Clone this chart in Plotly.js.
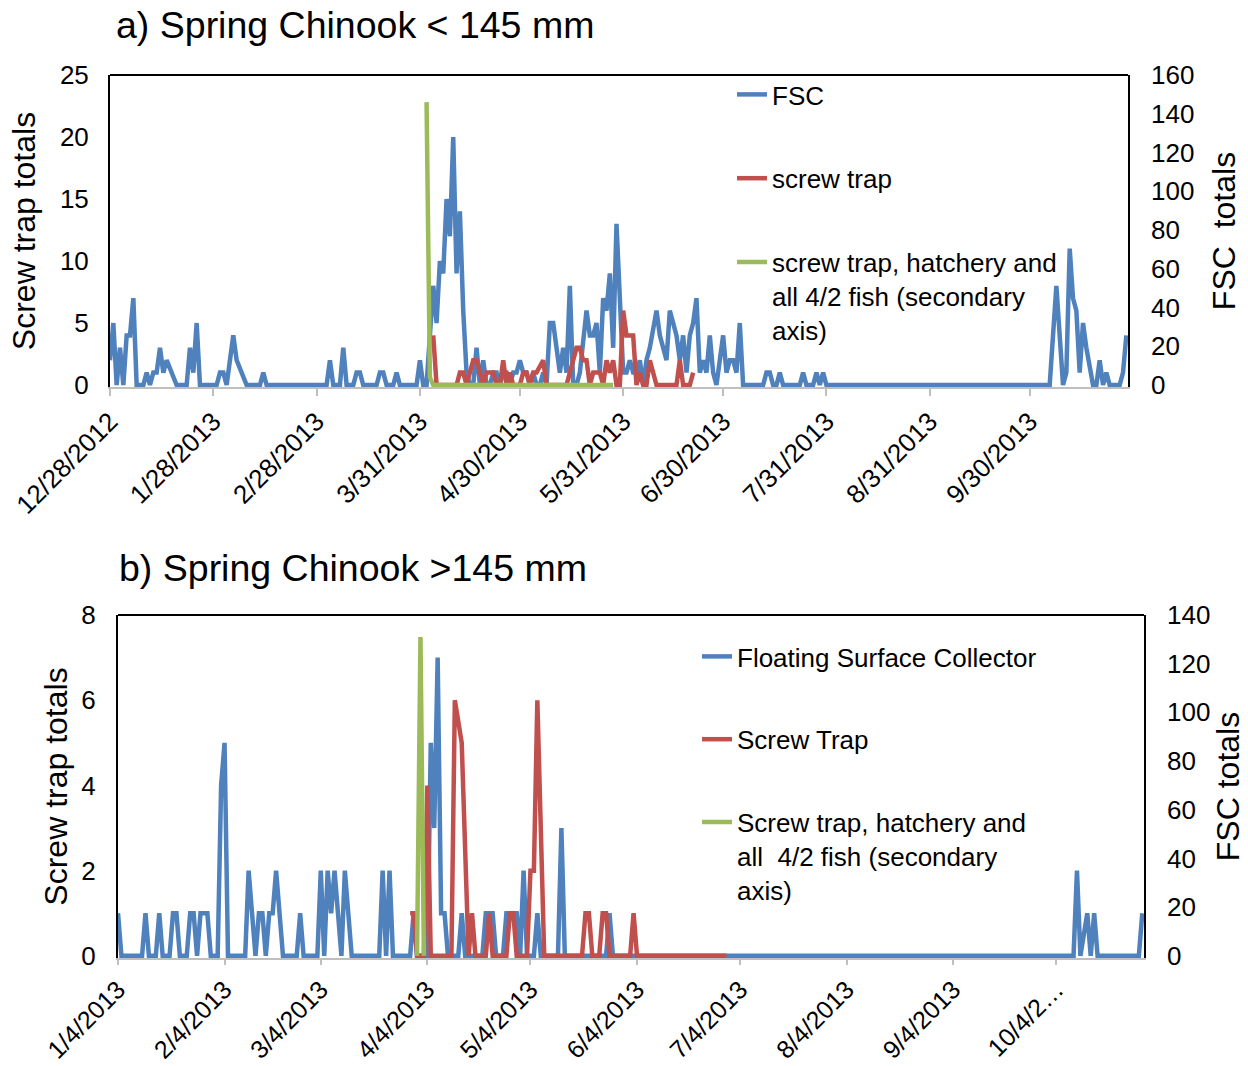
<!DOCTYPE html>
<html>
<head>
<meta charset="utf-8">
<script src="https://cdn.plot.ly/plotly-3.0.1.min.js"></script>
<style>html,body{margin:0;padding:0;background:#fff}#chart{width:1248px;height:1066px}</style>
</head>
<body>
<div id="chart"></div>
<script>
// ---------- Panel a: Spring Chinook < 145 mm ----------
const fscDatesA = ["2012-12-28","2012-12-29","2012-12-30","2012-12-31",
"2013-01-01","2013-01-02","2013-01-03","2013-01-04","2013-01-05","2013-01-07","2013-01-08","2013-01-09","2013-01-10","2013-01-11","2013-01-12","2013-01-13","2013-01-14","2013-01-17","2013-01-20","2013-01-21","2013-01-22","2013-01-23","2013-01-24","2013-01-29","2013-01-30","2013-01-31",
"2013-02-01","2013-02-03","2013-02-04","2013-02-07","2013-02-11","2013-02-12","2013-02-13",
"2013-03-03","2013-03-04","2013-03-05","2013-03-07","2013-03-08","2013-03-09","2013-03-11","2013-03-12","2013-03-13","2013-03-14","2013-03-18","2013-03-19","2013-03-20","2013-03-21","2013-03-23","2013-03-24","2013-03-25","2013-03-30","2013-03-31",
"2013-04-01","2013-04-02","2013-04-04","2013-04-05","2013-04-06","2013-04-07","2013-04-08","2013-04-09","2013-04-10","2013-04-11","2013-04-12","2013-04-13","2013-04-14","2013-04-15","2013-04-16","2013-04-17","2013-04-18","2013-04-19","2013-04-20","2013-04-21","2013-04-22","2013-04-23","2013-04-24","2013-04-25","2013-04-26","2013-04-27","2013-04-28","2013-04-29","2013-04-30",
"2013-05-01","2013-05-02","2013-05-03","2013-05-04","2013-05-05","2013-05-06","2013-05-07","2013-05-08","2013-05-09","2013-05-10","2013-05-12","2013-05-13","2013-05-14","2013-05-15","2013-05-16","2013-05-17","2013-05-18","2013-05-20","2013-05-21","2013-05-22","2013-05-23","2013-05-24","2013-05-25","2013-05-26","2013-05-27","2013-05-28","2013-05-29","2013-05-31",
"2013-06-01","2013-06-02","2013-06-03","2013-06-04","2013-06-05","2013-06-06","2013-06-07","2013-06-08","2013-06-10","2013-06-11","2013-06-13","2013-06-14","2013-06-16","2013-06-17","2013-06-18","2013-06-19","2013-06-20","2013-06-21","2013-06-22","2013-06-23","2013-06-24","2013-06-25","2013-06-26","2013-06-27","2013-06-28","2013-06-29","2013-06-30",
"2013-07-01","2013-07-02","2013-07-03","2013-07-04","2013-07-05","2013-07-06","2013-07-12","2013-07-13","2013-07-14","2013-07-15","2013-07-16","2013-07-17","2013-07-18","2013-07-23","2013-07-24","2013-07-25","2013-07-27","2013-07-28","2013-07-29","2013-07-30","2013-07-31",
"2013-10-06","2013-10-08","2013-10-10","2013-10-11","2013-10-12","2013-10-13","2013-10-14","2013-10-15","2013-10-16","2013-10-17","2013-10-19","2013-10-20","2013-10-21","2013-10-22","2013-10-23","2013-10-24","2013-10-27","2013-10-28","2013-10-29"];
const fscA = [2,5,0,3,
0,4,4,7,0,0,1,0,1,1,3,1,2,0,0,3,1,5,0,0,1,1,
0,4,2,0,0,1,0,
0,2,0,0,3,0,0,1,1,0,0,1,1,0,0,1,0,0,2,
0,0,8,5,10,9,15,12,20,9,14,6,1,0,0,3,0,2,0,0,1,1,0,1,1,0,1,1,2,
1,1,0,1,0,0,1,0,5,5,1,3,1,8,0,0,1,6,4,4,5,1,7,6,9,3,13,1,
1,2,1,1,2,0,2,3,6,4,2,6,4,2,4,1,4,5,7,1,2,1,4,1,0,2,4,
1,2,2,1,5,0,0,1,1,0,0,1,0,0,1,0,0,1,0,1,0,
0,8,0,1,11,7,6,1,5,3,0,0,2,0,1,0,0,1,4];

const trapDatesA = ["2013-04-04","2013-04-05","2013-04-11","2013-04-12","2013-04-13","2013-04-14","2013-04-16","2013-04-17","2013-04-19","2013-04-20","2013-04-22","2013-04-23","2013-04-24","2013-04-25","2013-04-26","2013-04-27","2013-04-28","2013-04-30",
"2013-05-01","2013-05-02","2013-05-03","2013-05-04","2013-05-05","2013-05-07","2013-05-08","2013-05-14","2013-05-15","2013-05-16","2013-05-17","2013-05-18","2013-05-19","2013-05-20","2013-05-21","2013-05-22","2013-05-23","2013-05-24","2013-05-25","2013-05-26","2013-05-27","2013-05-28","2013-05-29","2013-05-30","2013-05-31",
"2013-06-01","2013-06-02","2013-06-03","2013-06-04","2013-06-05","2013-06-06","2013-06-07","2013-06-08","2013-06-09","2013-06-10","2013-06-16","2013-06-17","2013-06-18","2013-06-20","2013-06-21"];
const trapA = [4,0,0,1,1,0,2,2,0,1,1,0,0,2,0,1,0,0,
1,1,0,1,1,2,0,0,1,2,3,3,2,2,0,1,1,1,0,2,1,2,0,0,6,
4,4,4,0,1,0,0,2,1,0,0,2,0,0,1];

const allDatesA = ["2013-04-02","2013-04-03","2013-04-04","2013-05-28"];
const allA = [146,4,0,0];

const tickValsA = ["2012-12-28","2013-01-28","2013-02-28","2013-03-31","2013-04-30","2013-05-31","2013-06-30","2013-07-31","2013-08-31","2013-09-30"];
const tickTextA = ["12/28/2012","1/28/2013","2/28/2013","3/31/2013","4/30/2013","5/31/2013","6/30/2013","7/31/2013","8/31/2013","9/30/2013"];

// ---------- Panel b: Spring Chinook >145 mm ----------
const fscDatesB = ["2013-01-04","2013-01-05","2013-01-11","2013-01-12","2013-01-13","2013-01-15","2013-01-16","2013-01-17","2013-01-19","2013-01-20","2013-01-21","2013-01-22","2013-01-24","2013-01-25","2013-01-26","2013-01-27","2013-01-28","2013-01-29","2013-01-30","2013-01-31",
"2013-02-02","2013-02-03","2013-02-04","2013-02-05","2013-02-10","2013-02-11","2013-02-13","2013-02-14","2013-02-15","2013-02-16","2013-02-17","2013-02-18","2013-02-19","2013-02-21","2013-02-25","2013-02-26","2013-02-27",
"2013-03-03","2013-03-04","2013-03-05","2013-03-06","2013-03-07","2013-03-08","2013-03-10","2013-03-11","2013-03-13","2013-03-21","2013-03-22","2013-03-23","2013-03-24","2013-03-25","2013-03-30","2013-03-31",
"2013-04-01","2013-04-04","2013-04-05","2013-04-06","2013-04-07","2013-04-08","2013-04-09","2013-04-10","2013-04-13","2013-04-14","2013-04-15","2013-04-20","2013-04-21","2013-04-22","2013-04-23","2013-04-24","2013-04-26","2013-04-27","2013-04-28","2013-04-29","2013-04-30",
"2013-05-01","2013-05-02","2013-05-03","2013-05-05","2013-05-06","2013-05-07","2013-05-12","2013-05-13","2013-05-14","2013-05-26","2013-05-27","2013-05-28",
"2013-10-09","2013-10-10","2013-10-11","2013-10-13","2013-10-14","2013-10-15","2013-10-16","2013-10-28","2013-10-29"];
const fscB = [1,0,0,1,0,0,1,0,0,1,1,0,0,1,1,0,1,1,1,0,
0,4,5,0,0,2,0,1,1,0,1,1,2,0,0,1,0,
0,2,0,2,1,2,0,2,0,0,2,0,2,0,0,1,
0,0,5,3,7,1,1,0,0,1,0,0,1,1,1,0,0,1,1,1,1,
0,2,0,0,1,0,0,3,0,0,1,0,
0,2,0,1,0,1,0,0,1];

const trapDatesB = ["2013-03-30","2013-03-31","2013-04-01","2013-04-03","2013-04-04","2013-04-05","2013-04-11","2013-04-12","2013-04-14","2013-04-16","2013-04-17","2013-04-18","2013-04-21","2013-04-22","2013-04-23","2013-04-27","2013-04-28","2013-04-29","2013-04-30",
"2013-05-03","2013-05-04","2013-05-05","2013-05-06","2013-05-07","2013-05-08","2013-05-19","2013-05-20","2013-05-21","2013-05-22","2013-05-24","2013-05-25","2013-05-26","2013-05-27",
"2013-06-02","2013-06-03","2013-06-04","2013-06-30"];
const trapB = [1,1,0,0,4,0,0,6,5,0,1,0,0,1,0,0,1,1,0,
0,2,2,6,3,0,0,1,1,0,0,1,1,0,
0,1,0,0];

const allDatesB = ["2013-04-01","2013-04-02","2013-04-03"];
const allB = [0,131,0];

const tickValsB = ["2013-01-04","2013-02-04","2013-03-04","2013-04-04","2013-05-04","2013-06-04","2013-07-04","2013-08-04","2013-09-04","2013-10-04"];
const tickTextB = ["1/4/2013","2/4/2013","3/4/2013","4/4/2013","5/4/2013","6/4/2013","7/4/2013","8/4/2013","9/4/2013","10/4/2\u2026"];

// ---------- styling ----------
const FONT = "Liberation Sans, Arial, sans-serif";
const BLUE = "#4F81BD", RED = "#C0504D", GREEN = "#9BBB59";
const LW = 4.5;
const W = 1248, H = 1066;
const px = v => v / W, py = v => 1 - v / H;

const traces = [
  {x: fscDatesA, y: fscA, xaxis: "x", yaxis: "y", type: "scatter", mode: "lines", name: "FSC",
   line: {color: BLUE, width: LW}, legend: "legend", legendgroup: "a1"},
  {x: trapDatesA, y: trapA, xaxis: "x", yaxis: "y", type: "scatter", mode: "lines", name: "screw trap",
   line: {color: RED, width: LW}, legend: "legend", legendgroup: "a2"},
  {x: allDatesA, y: allA, xaxis: "x", yaxis: "y2", type: "scatter", mode: "lines",
   name: "screw trap, hatchery and<br>all 4/2 fish (secondary<br>axis)",
   line: {color: GREEN, width: LW}, legend: "legend", legendgroup: "a3"},
  {x: fscDatesB, y: fscB, xaxis: "x2", yaxis: "y3", type: "scatter", mode: "lines", name: "Floating Surface Collector",
   line: {color: BLUE, width: LW}, legend: "legend2", legendgroup: "b1"},
  {x: trapDatesB, y: trapB, xaxis: "x2", yaxis: "y3", type: "scatter", mode: "lines", name: "Screw Trap",
   line: {color: RED, width: LW}, legend: "legend2", legendgroup: "b2"},
  {x: allDatesB, y: allB, xaxis: "x2", yaxis: "y4", type: "scatter", mode: "lines",
   name: "Screw trap, hatchery and<br>all\u00a0 4/2 fish (secondary<br>axis)",
   line: {color: GREEN, width: LW}, legend: "legend2", legendgroup: "b3"}
];

const xCommon = {
  type: "date", showgrid: false, zeroline: false, showline: true, linecolor: "#BFBFBF", linewidth: 2,
  ticks: "outside", tickcolor: "#BFBFBF", tickwidth: 2, ticklen: 7, tickangle: -45,
  tickfont: {family: FONT, size: 26, color: "#000"}, tickmode: "array"
};
const yLeft = {
  showgrid: false, zeroline: false, showline: true, mirror: true, linecolor: "#000", linewidth: 2,
  ticks: "", tickfont: {family: FONT, size: 26, color: "#000"}, ticklabelstandoff: 14
};
const yRight = {
  showgrid: false, zeroline: false, showline: false, side: "right",
  ticks: "", tickfont: {family: FONT, size: 26, color: "#000"}, ticklabelstandoff: 22
};

const domXA = [px(110), px(1128)], domXB = [px(118), px(1144)];
const domYA = [py(387), py(75)], domYB = [py(958), py(615)];

const layout = {
  width: W, height: H, margin: {l: 0, r: 0, t: 0, b: 0},
  paper_bgcolor: "#fff", plot_bgcolor: "#fff",
  font: {family: FONT, color: "#000"},
  showlegend: true,
  xaxis: Object.assign({}, xCommon, {domain: domXA, anchor: "y",
    range: ["2012-12-28", "2013-10-29 12:00"], tickvals: tickValsA, ticktext: tickTextA}),
  xaxis2: Object.assign({}, xCommon, {domain: domXB, anchor: "y3", ticklen: 5,
    tickfont: {family: FONT, size: 25, color: "#000"},
    range: ["2013-01-04", "2013-10-29 12:00"], tickvals: tickValsB, ticktext: tickTextB}),
  yaxis: Object.assign({}, yLeft, {domain: domYA, anchor: "x", range: [-0.16, 25], dtick: 5,
    title: {text: "Screw trap totals", font: {family: FONT, size: 32, color: "#000"}, standoff: 15}}),
  yaxis2: Object.assign({}, yRight, {domain: domYA, anchor: "x", overlaying: "y", range: [-1.024, 160], dtick: 20,
    title: {text: "FSC\u00a0 totals", font: {family: FONT, size: 32, color: "#000"}, standoff: 19}}),
  yaxis3: Object.assign({}, yLeft, {domain: domYB, anchor: "x2", range: [-0.05, 8], dtick: 2, ticklabelstandoff: 15,
    title: {text: "Screw trap totals", font: {family: FONT, size: 32, color: "#000"}, standoff: 4}}),
  yaxis4: Object.assign({}, yRight, {domain: domYB, anchor: "x2", overlaying: "y3", range: [-0.875, 140], dtick: 20,
    title: {text: "FSC totals", font: {family: FONT, size: 32, color: "#000"}, standoff: 2}}),
  legend: {x: px(732), y: py(71), xanchor: "left", yanchor: "top", bgcolor: "rgba(0,0,0,0)",
    font: {family: FONT, size: 26, color: "#000"}, tracegroupgap: 47, valign: "top", traceorder: "grouped"},
  legend2: {x: px(697), y: py(633), xanchor: "left", yanchor: "top", bgcolor: "rgba(0,0,0,0)",
    font: {family: FONT, size: 26, color: "#000"}, tracegroupgap: 46, valign: "top", traceorder: "grouped"},
  shapes: [
    {type: "line", xref: "paper", yref: "paper", x0: domXA[0], x1: domXA[1], y0: domYA[1], y1: domYA[1], line: {color: "#000", width: 2}},
    {type: "line", xref: "paper", yref: "paper", x0: domXB[0], x1: domXB[1], y0: domYB[1], y1: domYB[1], line: {color: "#000", width: 2}}
  ],
  annotations: [
    {text: "a) Spring Chinook &lt; 145 mm", xref: "paper", yref: "paper", x: px(114), y: py(25),
     xanchor: "left", yanchor: "middle", showarrow: false, font: {family: FONT, size: 37.5, color: "#000"}},
    {text: "b) Spring Chinook &gt;145 mm", xref: "paper", yref: "paper", x: px(117), y: py(568),
     xanchor: "left", yanchor: "middle", showarrow: false, font: {family: FONT, size: 37.5, color: "#000"}}
  ]
};

Plotly.newPlot("chart", traces, layout, {staticPlot: true, displayModeBar: false});
</script>
</body>
</html>
